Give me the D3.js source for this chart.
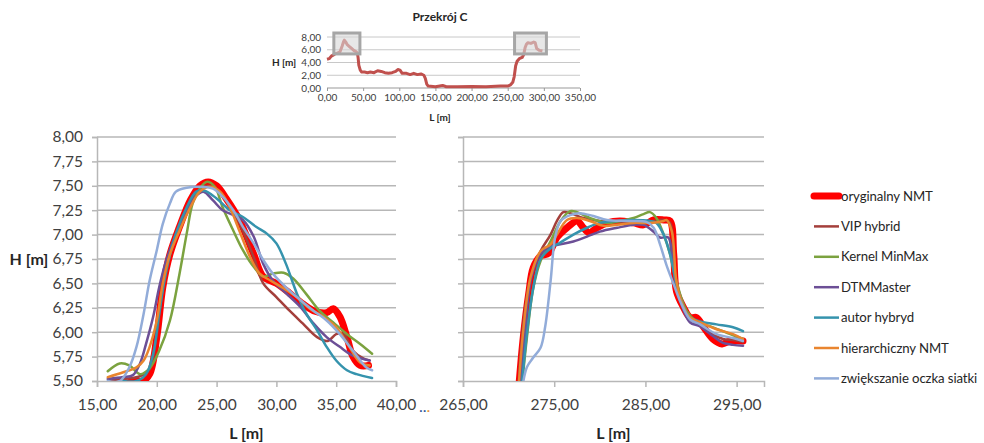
<!DOCTYPE html>
<html>
<head>
<meta charset="utf-8">
<script src="https://cdn.jsdelivr.net/npm/d3@7"></script>
<style>
  body { margin: 0; background: #fff; }
  svg { font-family: Lato, "Open Sans", sans-serif; }
</style>
</head>
<body>
<div id="chart"></div>
<script>
/* Series names */
const SERIES = ['oryginalny NMT', 'VIP hybrid', 'Kernel MinMax', 'DTMMaster',
  'autor hybryd', 'hierarchiczny NMT', 'zwiększanie oczka siatki'];

/* Overview profile (Przekrój C) */
const profileC = [[0,4.5],[3,4.6],[6,5.0],[9,5.2],[12,5.4],[15,5.5],[18,5.7],[21,6.6],[23,7.3],[24,7.5],
  [26,7.2],[28,6.8],[31,6.5],[34,6.2],[37,5.9],[40,5.7],[42,5.5],[43,4.8],[44,3.6],[46,2.8],[48,2.5],
  [52,2.5],[56,2.4],[60,2.5],[65,2.4],[70,2.7],[75,2.6],[80,2.4],[85,2.3],[90,2.4],[95,2.6],[98,2.9],
  [101,2.8],[104,2.3],[110,2.3],[115,2.1],[120,2.3],[125,2.1],[130,2.2],[134,2.0],[136,1.5],[138,0.6],
  [140,0.3],[150,0.2],[160,0.4],[165,0.2],[180,0.2],[200,0.25],[220,0.2],[240,0.3],[250,0.3],[254,0.5],
  [257,0.9],[259,1.8],[261,3.5],[263,4.2],[266,4.6],[270,4.8],[272,5.2],[274,6.3],[276,6.9],[278,7.1],
  [282,7.0],[286,7.2],[288,7.1],[290,6.2],[294,5.9],[298,5.8]];
const overviewXTicks = [0, 50, 100, 150, 200, 250, 300, 350];
const overviewYTicks = [0, 2, 4, 6, 8];

/* Detail windows */
const leftRange = [15, 40];
const rightRange = [265, 298];
const hRange = [5.5, 8];
const leftXTicks = [15, 20, 25, 30, 35, 40];
const rightXTicks = [265, 275, 285, 295];
const hTicks = [5.5, 5.75, 6, 6.25, 6.5, 6.75, 7, 7.25, 7.5, 7.75, 8];

/* Left detail (L 15-40) */
const leftOryginalny = [[16,5.42],[17,5.44],[18,5.5],[18.8,5.5],[19.4,5.57],[20.0,5.95],[20.5,6.46],[21.1,6.8],
  [21.9,7.08],[22.8,7.35],[23.6,7.5],[24.3,7.54],[25.0,7.5],[25.8,7.37],[26.9,7.15],[28.1,6.8],[28.9,6.57],
  [30.0,6.5],[31.1,6.4],[32.0,6.31],[33.1,6.22],[34.2,6.2],[34.75,6.24],[35.3,6.16],[35.9,5.95],[36.4,5.75],
  [37.0,5.66],[37.7,5.66]];
const leftVip = [[16,5.5],[17,5.52],[18,5.53],[18.8,5.56],[19.4,5.62],[20.0,5.98],[20.5,6.45],[21.1,6.79],
  [21.9,7.07],[22.8,7.33],[23.6,7.47],[24.3,7.5],[25.0,7.47],[25.8,7.35],[26.9,7.12],[28.1,6.77],[28.9,6.5],
  [30.0,6.36],[31.1,6.22],[32.2,6.09],[33.4,5.95],[34.3,5.91],[35.0,5.98],[35.6,5.98],[36.4,5.81],[37.3,5.73],
  [37.8,5.71]];
const leftKernel = [[15.9,5.6],[16.9,5.68],[17.7,5.66],[18.6,5.57],[19.4,5.63],[20.2,5.81],[21.1,6.12],[21.9,6.6],
  [22.5,7.01],[23.0,7.32],[23.6,7.47],[24.15,7.54],[24.85,7.49],[25.5,7.28],[26.4,7.04],[27.2,6.84],[28.1,6.67],
  [28.9,6.57],[29.7,6.6],[30.6,6.61],[31.4,6.55],[32.5,6.39],[33.6,6.22],[34.75,6.1],[35.9,5.98],[37.0,5.88],
  [38.0,5.78]];
const leftDtm = [[15.9,5.52],[17.2,5.54],[18.0,5.56],[18.6,5.68],[19.1,5.88],[19.7,6.16],[20.2,6.46],[20.8,6.74],
  [21.6,7.01],[22.5,7.25],[23.3,7.4],[23.9,7.44],[24.7,7.35],[25.5,7.25],[26.4,7.2],[27.2,7.15],[28.1,6.98],
  [28.9,6.7],[29.7,6.53],[30.8,6.4],[32.0,6.26],[33.1,6.09],[34.2,5.95],[35.3,5.85],[36.4,5.76],[37.8,5.71]];
const leftAutor = [[17.2,5.5],[18.3,5.5],[19.1,5.57],[19.7,5.78],[20.2,6.19],[20.8,6.63],[21.6,7.01],[22.5,7.28],
  [23.3,7.44],[24.0,7.45],[25.0,7.37],[26.1,7.25],[27.2,7.18],[28.3,7.08],[29.2,7.01],[30.0,6.91],[30.8,6.7],
  [31.7,6.4],[32.5,6.19],[33.4,6.02],[34.2,5.85],[35.0,5.71],[35.9,5.61],[36.7,5.57],[38.0,5.53]];
const leftHier = [[15.9,5.54],[17.2,5.59],[18.3,5.64],[18.9,5.71],[19.4,5.85],[20.0,6.12],[20.5,6.5],[21.1,6.8],
  [21.9,7.04],[22.8,7.28],[23.6,7.44],[24.4,7.49],[25.3,7.44],[26.1,7.28],[26.9,7.04],[27.8,6.77],[28.6,6.6],
  [29.5,6.53],[30.6,6.45],[31.7,6.36],[32.8,6.24],[33.9,6.16],[35.0,6.05],[36.1,5.85],[37.0,5.69],[37.8,5.66]];
const leftZwiek = [[15.9,5.5],[16.9,5.5],[17.7,5.64],[18.3,5.85],[18.9,6.19],[19.4,6.53],[20.0,6.84],[20.5,7.11],
  [21.1,7.32],[21.6,7.44],[22.5,7.48],[23.6,7.49],[24.7,7.47],[25.5,7.39],[26.4,7.25],[27.2,7.08],[28.1,6.91],
  [28.9,6.74],[29.7,6.6],[30.8,6.46],[32.0,6.33],[33.1,6.22],[34.2,6.12],[35.3,5.98],[36.4,5.81],[37.5,5.64],
  [38.0,5.61]];

/* Right detail (L 265-298) */
const rightOryginalny = [[271.0,5.3],[271.6,5.94],[272.2,6.39],[272.7,6.66],[273.5,6.78],[274.4,6.81],[275.3,6.97],
  [276.4,7.07],[277.5,7.14],[278.2,7.07],[278.8,7.02],[279.7,7.07],[280.8,7.12],[282.2,7.14],[283.7,7.12],
  [284.8,7.1],[285.9,7.15],[287.0,7.15],[287.7,7.14],[288.1,6.8],[288.4,6.42],[289.2,6.25],[289.9,6.15],
  [290.6,6.15],[291.4,6.05],[292.4,5.93],[293.4,5.88],[294.3,5.91],[295.7,5.91]];
const rightVip = [[271.0,5.3],[271.6,6.08],[272.4,6.56],[273.5,6.83],[274.6,7.0],[275.3,7.14],[276.0,7.23],
  [276.75,7.22],[278.2,7.17],[280.0,7.14],[282.0,7.13],[284.0,7.12],[285.9,7.14],[287.0,7.15],[287.7,7.12],
  [288.1,6.8],[288.4,6.45],[289.2,6.25],[289.9,6.13],[291.0,6.08],[292.4,5.98],[293.5,5.93],[294.6,5.92],[295.7,5.9]];
const rightKernel = [[271.3,5.3],[272.0,5.94],[272.7,6.45],[273.5,6.73],[274.6,6.93],[275.7,7.14],[276.75,7.24],
  [277.5,7.23],[278.9,7.17],[280.8,7.12],[282.2,7.14],[283.7,7.17],[284.8,7.21],[285.5,7.23],[286.2,7.17],
  [287.0,7.0],[287.7,6.8],[288.4,6.52],[289.5,6.22],[290.6,6.11],[292.4,6.05],[294.3,5.98],[295.7,5.93]];
const rightDtm = [[271.2,5.3],[271.8,6.01],[272.5,6.56],[273.5,6.8],[274.6,6.88],[275.7,6.9],[277.1,6.93],
  [278.6,6.98],[280.0,7.03],[281.9,7.07],[283.7,7.1],[284.8,7.1],[285.9,7.03],[286.6,6.97],[287.5,6.97],
  [287.9,6.8],[288.4,6.45],[289.2,6.22],[289.9,6.1],[291.0,6.06],[292.4,5.96],[293.5,5.89],[294.6,5.87],[295.7,5.86]];
const rightAutor = [[271.3,5.3],[272.0,5.98],[272.7,6.45],[273.5,6.75],[274.6,6.86],[275.7,6.92],[277.1,7.0],
  [278.6,7.07],[280.0,7.12],[281.9,7.14],[283.7,7.15],[285.5,7.14],[286.2,7.12],[287.0,7.0],[287.7,6.8],
  [288.4,6.49],[289.2,6.25],[289.9,6.15],[291.0,6.11],[292.8,6.08],[294.6,6.05],[295.7,6.01]];
const rightHier = [[271.0,5.3],[271.6,6.01],[272.4,6.56],[273.5,6.83],[274.6,6.9],[275.3,7.0],[276.4,7.15],
  [277.5,7.17],[278.9,7.14],[280.4,7.09],[281.9,7.1],[283.7,7.12],[285.5,7.12],[287.0,7.14],[287.3,7.15],
  [287.9,7.03],[288.4,6.52],[289.2,6.25],[289.9,6.15],[291.0,6.1],[292.8,6.03],[294.6,5.98],[295.7,5.93]];
const rightZwiek = [[271.3,5.3],[272.0,5.64],[272.7,5.74],[273.5,5.84],[274.0,6.05],[274.6,6.52],[275.1,6.97],
  [275.7,7.14],[276.75,7.2],[277.8,7.22],[279.3,7.19],[280.8,7.15],[283.0,7.14],[285.1,7.13],[285.9,7.07],
  [286.6,6.9],[287.3,6.69],[288.1,6.49],[288.8,6.32],[289.9,6.13],[291.0,6.08],[292.8,5.98],[294.6,5.94],[295.7,5.91]];

const LEFT_DATA = [leftOryginalny, leftVip, leftKernel, leftDtm, leftAutor, leftHier, leftZwiek];
const RIGHT_DATA = [rightOryginalny, rightVip, rightKernel, rightDtm, rightAutor, rightHier, rightZwiek];

/* Styles */
const COLORS = ['#ff0000', '#a43f3b', '#7ba23f', '#6c4f96', '#3593ad', '#e9852f', '#92acd9'];
const WIDTHS = [7, 2.5, 2.5, 2.5, 2.5, 2.5, 2.5];
const GRID = '#b7b7b7';
const TEXT = '#404040';

const fmt = v => d3.format('.2f')(v).replace('.', ',');

const svg = d3.select('#chart').append('svg')
  .attr('width', 984)
  .attr('height', 443);

/* ---------- overview chart ---------- */
const ox = d3.scaleLinear().domain([0, 350]).range([327, 580]);
const oy = d3.scaleLinear().domain([0, 8]).range([88, 37]);
const ov = svg.append('g');

ov.selectAll('.ogrid').data(overviewYTicks).enter().append('line')
  .attr('x1', ox(0)).attr('x2', ox(350))
  .attr('y1', d => oy(d)).attr('y2', d => oy(d))
  .attr('stroke', d => d === 0 ? '#999' : '#c8c8c8').attr('stroke-width', 1);

ov.append('g').attr('transform', `translate(0,${oy(0)})`)
  .call(d3.axisBottom(ox).tickValues(overviewXTicks).tickFormat(fmt).tickSize(3).tickPadding(3))
  .call(g => g.select('.domain').remove())
  .call(g => g.selectAll('line').attr('stroke', '#999'))
  .call(g => g.selectAll('text').attr('font-size', 10).attr('fill', TEXT).attr('font-family', 'Lato'));

ov.append('g').attr('transform', `translate(${ox(0)},0)`)
  .call(d3.axisLeft(oy).tickValues(overviewYTicks).tickFormat(fmt).tickSize(0).tickPadding(6))
  .call(g => g.select('.domain').remove())
  .call(g => g.selectAll('text').attr('font-size', 10).attr('fill', TEXT).attr('font-family', 'Lato'));

ov.append('path').datum(profileC)
  .attr('fill', 'none').attr('stroke', '#c0504d').attr('stroke-width', 3)
  .attr('stroke-linejoin', 'round')
  .attr('d', d3.line().x(d => ox(d[0])).y(d => oy(d[1])));

// zoom windows
[leftRange, rightRange].forEach(r => {
  ov.append('rect')
    .attr('x', ox(r[0]) - 4).attr('y', oy(hRange[1]) - 4)
    .attr('width', ox(r[1]) - ox(r[0]) + 8).attr('height', oy(hRange[0]) - oy(hRange[1]) + 5)
    .attr('fill', 'rgba(215,215,215,0.6)').attr('stroke', '#a6a6a6').attr('stroke-width', 3);
});

ov.append('text').attr('x', 440).attr('y', 21).attr('text-anchor', 'middle')
  .attr('font-size', 12).attr('font-weight', 'bold').attr('fill', '#262626').text('Przekrój C');
ov.append('text').attr('x', 284).attr('y', 66).attr('text-anchor', 'middle')
  .attr('font-size', 10).attr('font-weight', 'bold').attr('fill', '#262626').text('H [m]');
ov.append('text').attr('x', 440).attr('y', 121).attr('text-anchor', 'middle')
  .attr('font-size', 10).attr('font-weight', 'bold').attr('fill', '#262626').text('L [m]');

/* ---------- detail charts ---------- */
const yScale = d3.scaleLinear().domain(hRange).range([381, 137]);

function detail(id, range, ticks, data, x0, x1, showY) {
  const x = d3.scaleLinear().domain(range).range([x0, x1]);
  const g = svg.append('g');

  g.append('clipPath').attr('id', id).append('rect')
    .attr('x', x0).attr('y', yScale(hRange[1]) - 6)
    .attr('width', x1 - x0 + 6).attr('height', yScale(hRange[0]) - yScale(hRange[1]) + 6);

  g.selectAll('.grid').data(hTicks.slice(1)).enter().append('line')
    .attr('x1', x0).attr('x2', x1)
    .attr('y1', d => yScale(d)).attr('y2', d => yScale(d))
    .attr('stroke', GRID).attr('stroke-width', 1.5);

  g.append('g').attr('transform', `translate(${x0},0)`)
    .call(d3.axisLeft(yScale).tickValues(hTicks).tickFormat(showY ? fmt : '').tickSize(5).tickPadding(9))
    .call(a => a.select('.domain').attr('stroke', GRID).attr('stroke-width', 1.5))
    .call(a => a.selectAll('line').attr('stroke', GRID).attr('stroke-width', 1.5))
    .call(a => a.selectAll('text').attr('font-size', 15.5).attr('fill', TEXT).attr('font-family', 'Lato'));

  g.append('g').attr('transform', `translate(0,${yScale(hRange[0])})`)
    .call(d3.axisBottom(x).tickValues(ticks).tickFormat(fmt).tickSize(6).tickPadding(12))
    .call(a => a.select('.domain').attr('stroke', GRID).attr('stroke-width', 1.5))
    .call(a => a.selectAll('line').attr('stroke', GRID).attr('stroke-width', 1.5))
    .call(a => a.selectAll('text').attr('font-size', 15.5).attr('fill', TEXT).attr('font-family', 'Lato'));

  const line = d3.line().curve(d3.curveCatmullRom.alpha(0.5))
    .x(d => x(d[0])).y(d => yScale(d[1]));

  g.append('g').attr('clip-path', `url(#${id})`)
    .selectAll('path').data(data).enter().append('path')
    .attr('fill', 'none')
    .attr('stroke', (d, i) => COLORS[i])
    .attr('stroke-width', (d, i) => WIDTHS[i])
    .attr('stroke-linecap', 'round').attr('stroke-linejoin', 'round')
    .attr('d', line);

  g.append('text').attr('x', (x0 + x1) / 2).attr('y', 439).attr('text-anchor', 'middle')
    .attr('font-size', 16).attr('font-weight', 'bold').attr('fill', '#262626').text('L [m]');
}

detail('clipL', leftRange, leftXTicks, LEFT_DATA, 97, 396, true);
detail('clipR', rightRange, rightXTicks, RIGHT_DATA, 463, 764, false);

svg.append('text').attr('x', 29).attr('y', 265).attr('text-anchor', 'middle')
  .attr('font-size', 16).attr('font-weight', 'bold').attr('fill', '#262626').text('H [m]');

const dots = svg.append('text').attr('x', 419).attr('y', 412).attr('font-size', 16);
dots.append('tspan').attr('fill', '#2f5597').text('..');
dots.append('tspan').attr('fill', '#e69138').text('.');

/* ---------- legend ---------- */
const legend = svg.append('g').selectAll('g').data(SERIES).enter().append('g')
  .attr('transform', (d, i) => `translate(812,${196 + i * 30.4})`);
legend.append('line').attr('x1', 2).attr('x2', 27)
  .attr('stroke', (d, i) => COLORS[i]).attr('stroke-width', (d, i) => WIDTHS[i])
  .attr('stroke-linecap', (d, i) => i === 0 ? 'round' : 'butt');
legend.append('text').attr('x', 29).attr('dy', '0.35em')
  .attr('font-size', 13.2).attr('letter-spacing', -0.1).attr('fill', '#262626').text(d => d);
</script>
</body>
</html>
